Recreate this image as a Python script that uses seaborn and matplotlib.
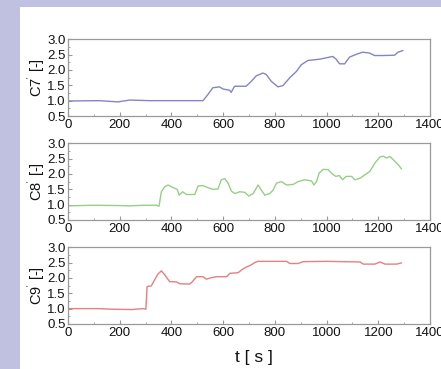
import numpy as np
import pandas as pd
import matplotlib
matplotlib.use("Agg")
import matplotlib.pyplot as plt
from matplotlib.patches import Rectangle
from matplotlib.ticker import MultipleLocator
import seaborn as sns

# values
t_c7 = [0, 122, 193, 238, 316, 380, 522, 541, 560, 586, 599, 625, 631, 644, 689,
        709, 728, 754, 767, 786, 812, 831, 857, 883, 902, 928, 973, 1012, 1024,
        1037, 1050, 1070, 1089, 1115, 1140, 1166, 1186, 1218, 1263, 1276, 1295]
c7 = [0.99, 1.0, 0.96, 1.02, 1.0, 1.0, 1.0, 1.2, 1.42, 1.45, 1.38, 1.34, 1.27,
      1.47, 1.47, 1.63, 1.81, 1.9, 1.85, 1.63, 1.45, 1.49, 1.74, 1.95, 2.17,
      2.31, 2.35, 2.42, 2.44, 2.35, 2.2, 2.2, 2.42, 2.51, 2.58, 2.55, 2.47,
      2.47, 2.48, 2.58, 2.63]

t_c8 = [0, 97, 200, 239, 290, 342, 352, 361, 374, 387, 400, 413, 422, 430, 443,
        458, 490, 503, 522, 542, 561, 580, 593, 606, 619, 632, 645, 664, 684,
        699, 716, 735, 748, 761, 780, 793, 806, 826, 845, 871, 890, 916, 942,
        951, 961, 971, 987, 1006, 1023, 1036, 1049, 1062, 1075, 1097, 1109,
        1129, 1148, 1167, 1187, 1206, 1219, 1232, 1245, 1264, 1277, 1290]
c8 = [0.96, 0.98, 0.97, 0.96, 0.98, 0.98, 0.95, 1.42, 1.58, 1.64, 1.58, 1.53,
      1.5, 1.31, 1.42, 1.33, 1.33, 1.61, 1.62, 1.55, 1.5, 1.51, 1.81, 1.85,
      1.7, 1.44, 1.36, 1.42, 1.4, 1.28, 1.36, 1.64, 1.47, 1.31, 1.36, 1.47,
      1.7, 1.75, 1.64, 1.66, 1.75, 1.81, 1.77, 1.64, 1.75, 2.03, 2.15, 2.14,
      1.99, 1.92, 1.95, 1.81, 1.92, 1.92, 1.81, 1.86, 1.97, 2.08, 2.36, 2.55,
      2.58, 2.52, 2.57, 2.41, 2.3, 2.16]

t_c9 = [0, 120, 175, 245, 290, 301, 306, 322, 335, 348, 361, 374, 393, 419, 432,
        471, 481, 497, 522, 535, 555, 574, 613, 626, 658, 671, 690, 703, 722,
        735, 780, 845, 858, 890, 909, 1000, 1129, 1142, 1187, 1206, 1226,
        1271, 1290]
c9 = [1.0, 1.0, 0.98, 0.97, 1.0, 0.98, 1.72, 1.74, 1.94, 2.13, 2.23, 2.1, 1.88,
      1.87, 1.81, 1.8, 1.88, 2.04, 2.04, 1.96, 2.01, 2.04, 2.04, 2.15, 2.17,
      2.26, 2.36, 2.4, 2.5, 2.54, 2.54, 2.54, 2.47, 2.47, 2.53, 2.54, 2.52,
      2.45, 2.45, 2.52, 2.45, 2.45, 2.49]

panels = [
    ("C7", t_c7, c7, "#8585c4"),
    ("C8", t_c8, c8, "#96cf86"),
    ("C9", t_c9, c9, "#e87f80"),
]

sns.set_style("ticks")
plt.rcParams["font.family"] = ["Liberation Sans", "DejaVu Sans"]
plt.rcParams["mathtext.fontset"] = "custom"
plt.rcParams["mathtext.rm"] = "Liberation Sans"
plt.rcParams["mathtext.it"] = "Liberation Sans:italic"

fig = plt.figure(figsize=(4.41, 3.69), dpi=100)
fig.patches.append(Rectangle((0, 0), 1, 1, transform=fig.transFigure,
                             facecolor="#c0c0e0", edgecolor="none", zorder=-10))
fig.patches.append(Rectangle((20 / 441, 0), 1, 1 - 7 / 369, transform=fig.transFigure,
                             facecolor="white", edgecolor="none", zorder=-9))

bottoms = [0.6856, 0.4038, 0.1220]
for (name, t, c, color), b in zip(panels, bottoms):
    ax = fig.add_axes([0.1542, b, 0.8209, 0.208])
    df = pd.DataFrame({"t": t, "c": c})
    sns.lineplot(data=df, x="t", y="c", ax=ax, color=color, linewidth=1.0)
    ax.set_xlim(0, 1400)
    ax.set_ylim(0.5, 3.0)
    ax.xaxis.set_major_locator(MultipleLocator(200))
    ax.xaxis.set_minor_locator(MultipleLocator(100))
    ax.yaxis.set_major_locator(MultipleLocator(0.5))
    ax.yaxis.set_minor_locator(MultipleLocator(0.25))
    ax.tick_params(which="both", direction="in", color="#999999", labelsize=9.5,
                   labelcolor="#111111")
    ax.tick_params(axis="y", pad=1.5)
    ax.tick_params(axis="x", pad=2.5)
    ax.tick_params(which="major", length=3, width=0.8)
    ax.tick_params(which="minor", length=1.5, width=0.6)
    for sp in ax.spines.values():
        sp.set_color("#999999")
        sp.set_linewidth(0.9)
    ax.set_ylabel(name + r"$^{'}$ [-]", fontsize=10.5, labelpad=0, color="#111111")
    ax.set_xlabel("")
    ax.set_facecolor("white")

fig.text(0.575, 0.03, "t [ s ]", ha="center", va="center", fontsize=12.5,
         color="#111111")

fig.savefig("out.png", dpi=100)
